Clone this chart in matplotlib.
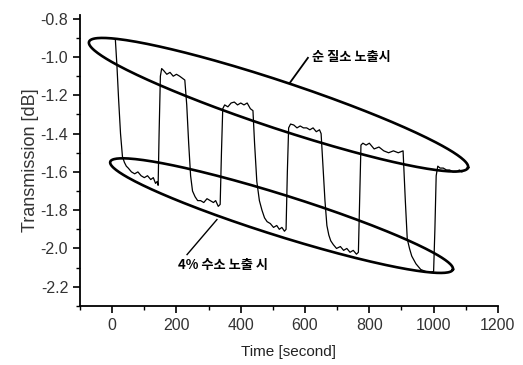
import matplotlib.pyplot as plt
import numpy as np

# signal: time [s], transmission [dB]
time_s = [10, 15, 20, 26, 32, 38, 44, 50, 60, 70, 80, 90, 100, 110, 120, 128, 135, 140, 143,
          146, 150, 154, 160, 170, 180, 190, 200, 210, 218, 226,
          232, 238, 244, 250, 258, 266, 275, 285, 295, 305, 315, 322, 330, 336,
          340, 344, 350, 360, 370, 380, 390, 400, 410, 420, 430, 438,
          443, 450, 458, 466, 474, 482, 492, 502, 512, 520, 528, 536, 541,
          545, 549, 555, 565, 575, 585, 595, 605, 615, 625, 635, 645, 650,
          655, 662, 668, 674, 680, 688, 698, 710, 720, 730, 740, 750, 760, 766,
          770, 774, 780, 790, 800, 815, 830, 845, 860, 875, 890, 905,
          912, 918, 925, 932, 945, 960, 975, 990, 1000,
          1004, 1008, 1013, 1020, 1030, 1040, 1050, 1060, 1070, 1080, 1088]
trans_db = [-0.91, -1.05, -1.22, -1.40, -1.52, -1.55, -1.57, -1.58, -1.60, -1.61, -1.60, -1.62, -1.63, -1.62, -1.64, -1.63, -1.66, -1.65, -1.67,
            -1.40, -1.10, -1.06, -1.07, -1.09, -1.08, -1.10, -1.09, -1.10, -1.11, -1.12,
            -1.25, -1.45, -1.62, -1.70, -1.73, -1.75, -1.75, -1.76, -1.74, -1.75, -1.76, -1.75, -1.78, -1.77,
            -1.50, -1.27, -1.25, -1.26, -1.24, -1.235, -1.25, -1.24, -1.25, -1.24, -1.27, -1.28,
            -1.45, -1.65, -1.75, -1.80, -1.84, -1.86, -1.87, -1.89, -1.88, -1.90, -1.89, -1.91, -1.90,
            -1.60, -1.37, -1.35, -1.355, -1.37, -1.36, -1.37, -1.37, -1.38, -1.37, -1.39, -1.38, -1.40,
            -1.55, -1.75, -1.88, -1.93, -1.96, -1.98, -2.00, -1.99, -2.01, -2.00, -2.02, -2.01, -2.03, -2.02,
            -1.75, -1.46, -1.45, -1.46, -1.45, -1.48, -1.47, -1.49, -1.50, -1.49, -1.50, -1.49,
            -1.75, -1.95, -2.00, -2.04, -2.08, -2.11, -2.12, -2.125, -2.12,
            -1.90, -1.62, -1.57, -1.58, -1.58, -1.59, -1.59, -1.60, -1.60, -1.59, -1.60]

# ellipse long-axis end points (time, dB)
n2_ends = [(-72, -0.92), (1107, -1.578)]
h2_ends = [(-6, -1.547), (1060, -2.11)]

n2_label = "순 질소 노출시"
h2_label = "4% 수소 노출 시"

plt.rcParams['font.family'] = ['Liberation Sans', 'DejaVu Sans']

fig = plt.figure(figsize=(5.23, 3.65), dpi=100)
ax = fig.add_axes([0.153, 0.162, 0.799, 0.797])

ax.plot(time_s, trans_db, color='black', lw=0.9)

ax.set_xlim(-100, 1200)
ax.set_ylim(-2.3, -0.78)
ax.set_xticks(np.arange(0, 1201, 200))
ax.set_xticks(np.arange(-100, 1201, 100), minor=True)
ax.set_yticks(np.arange(-2.2, -0.79, 0.2))
ax.set_yticks(np.arange(-2.3, -0.79, 0.1), minor=True)
ax.set_yticklabels([f"{v:.1f}" for v in np.arange(-2.2, -0.79, 0.2)])
ax.spines['top'].set_visible(False)
ax.spines['right'].set_visible(False)
for s in ['left', 'bottom']:
    ax.spines[s].set_linewidth(1.3)
ax.tick_params(which='major', direction='out', length=5, width=1.2,
               labelsize=11.5, labelcolor='#333333')
ax.tick_params(which='minor', direction='out', length=3, width=1.0)

ax.set_ylabel("Transmission [dB]", fontsize=13, color='#333333', labelpad=1)
ax.set_xlabel("Time [second]", fontsize=11, color='#222222', labelpad=9)


def draw_ellipse(ends, half_minor_px):
    # build the ellipse in display space so it keeps its shape, then back to data
    p = ax.transData.transform(np.array(ends, dtype=float))
    c = p.mean(axis=0)
    d = p[1] - p[0]
    a = np.hypot(*d) / 2
    ang = np.arctan2(d[1], d[0])
    th = np.linspace(0, 2 * np.pi, 300)
    x = a * np.cos(th)
    y = half_minor_px * np.sin(th)
    pts = np.column_stack([c[0] + x * np.cos(ang) - y * np.sin(ang),
                           c[1] + x * np.sin(ang) + y * np.cos(ang)])
    xy = ax.transData.inverted().transform(pts)
    ax.plot(xy[:, 0], xy[:, 1], color='black', lw=1.9)


draw_ellipse(n2_ends, 23.5)
draw_ellipse(h2_ends, 20.5)

kfont = ['Noto Sans CJK KR', 'DejaVu Sans']
ax.plot([553, 609], [-1.134, -1.004], color='black', lw=1.3)
ax.text(622, -1.0, n2_label, family=kfont, fontsize=9.5, fontweight='bold',
        va='center', ha='left')
ax.plot([233, 326], [-2.032, -1.849], color='black', lw=1.0)
ax.text(205, -2.084, h2_label, family=kfont, fontsize=9.5, fontweight='bold',
        va='center', ha='left')

fig.savefig('out.png', dpi=100)
